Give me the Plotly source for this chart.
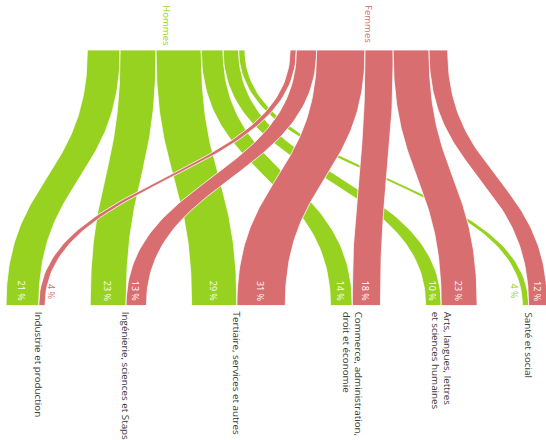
import numpy as np
import plotly.graph_objects as go

# ---- data ----
categories = [
    "Industrie et production",
    "Ingénierie, sciences et Staps",
    "Tertiaire, services et autres",
    "Commerce, administration,<br>droit et économie",
    "Arts, langues, lettres<br>et sciences humaines",
    "Santé et social",
]
groups = ["Hommes", "Femmes"]
hommes = [21, 23, 29, 14, 10, 4]
femmes = [4, 13, 31, 18, 23, 12]

# ---- style / layout constants ----
GREEN = "#98d220"
RED = "#d86e70"
LABEL = "#3a3a3a"
FONT = "Open Sans"
TOP_START = 56.0      # x (percentage units) where the Hommes node starts
BOTTOM_START = 3.85   # x where the first category starts
GAP = 29.0            # gap between nodes (percentage units)
Y_TOP = 50.0
Y_BOT = 305.5

series = [hommes, femmes]
colors = [GREEN, RED]

# top positions
top = []
x = TOP_START
for vals in series:
    pos = []
    for v in vals:
        pos.append((x, x + v))
        x += v
    top.append(pos)
    x += GAP

# bottom positions
bottom = [[], []]
x = BOTTOM_START
for i in range(len(categories)):
    for g, vals in enumerate(series):
        bottom[g].append((x, x + vals[i]))
        x += vals[i]
    x += GAP

t = np.linspace(0, 1, 80)
sx = 3 * t**2 - 2 * t**3
sy = 1.5 * t * (1 - t) + t**3
yy = Y_TOP + (Y_BOT - Y_TOP) * sy


def band(xt0, xt1, xb0, xb1):
    left = xt0 + (xb0 - xt0) * sx
    right = xt1 + (xb1 - xt1) * sx
    xs = np.concatenate([left, right[::-1], [left[0]]])
    ys = np.concatenate([yy, yy[::-1], [yy[0]]])
    return xs, ys


fig = go.Figure()
for g in range(2):
    for i in range(len(categories)):
        xt0, xt1 = top[g][i]
        xb0, xb1 = bottom[g][i]
        xs, ys = band(xt0, xt1, xb0, xb1)
        fig.add_trace(go.Scatter(
            x=xs, y=ys, mode="lines", fill="toself",
            fillcolor=colors[g], line=dict(color="white", width=0.8),
            hoverinfo="skip", showlegend=False,
        ))

annotations = []
# group titles
for g, name in enumerate(groups):
    cx = (top[g][0][0] + top[g][-1][1]) / 2
    annotations.append(dict(
        x=cx, y=3, xref="x", yref="y", text=name, textangle=90,
        xanchor="center", yanchor="top", showarrow=False,
        font=dict(family=FONT, size=9.5, color=colors[g]),
    ))

# category labels
for i, cat in enumerate(categories):
    cx = bottom[1][i][0]
    annotations.append(dict(
        x=cx, y=310, xref="x", yref="y", text=cat, textangle=90,
        xanchor="center", yanchor="top", align="left", showarrow=False,
        font=dict(family=FONT, size=9.8, color=LABEL),
    ))

# value labels
for g, vals in enumerate(series):
    for i, v in enumerate(vals):
        x0, x1 = bottom[g][i]
        if v >= 8:
            cx = (x0 + x1) / 2
            col = "white"
        else:
            cx = x1 + 4.5 if g == 1 else x0 - 5.0
            col = colors[g]
        annotations.append(dict(
            x=cx, y=291, xref="x", yref="y", text=f"{v} %", textangle=90,
            xanchor="center", yanchor="middle", showarrow=False,
            font=dict(family=FONT, size=9, color=col),
        ))

fig.update_layout(
    width=546, height=440,
    margin=dict(l=0, r=0, t=0, b=0),
    paper_bgcolor="white", plot_bgcolor="white",
    xaxis=dict(range=[0, 350], visible=False, fixedrange=True),
    yaxis=dict(range=[440, 0], visible=False, fixedrange=True),
    annotations=annotations,
    showlegend=False,
)
fig.write_html(
    "out.html",
    config={"displayModeBar": False},
    post_script="document.body.style.margin='0';document.body.style.overflow='hidden';",
)
